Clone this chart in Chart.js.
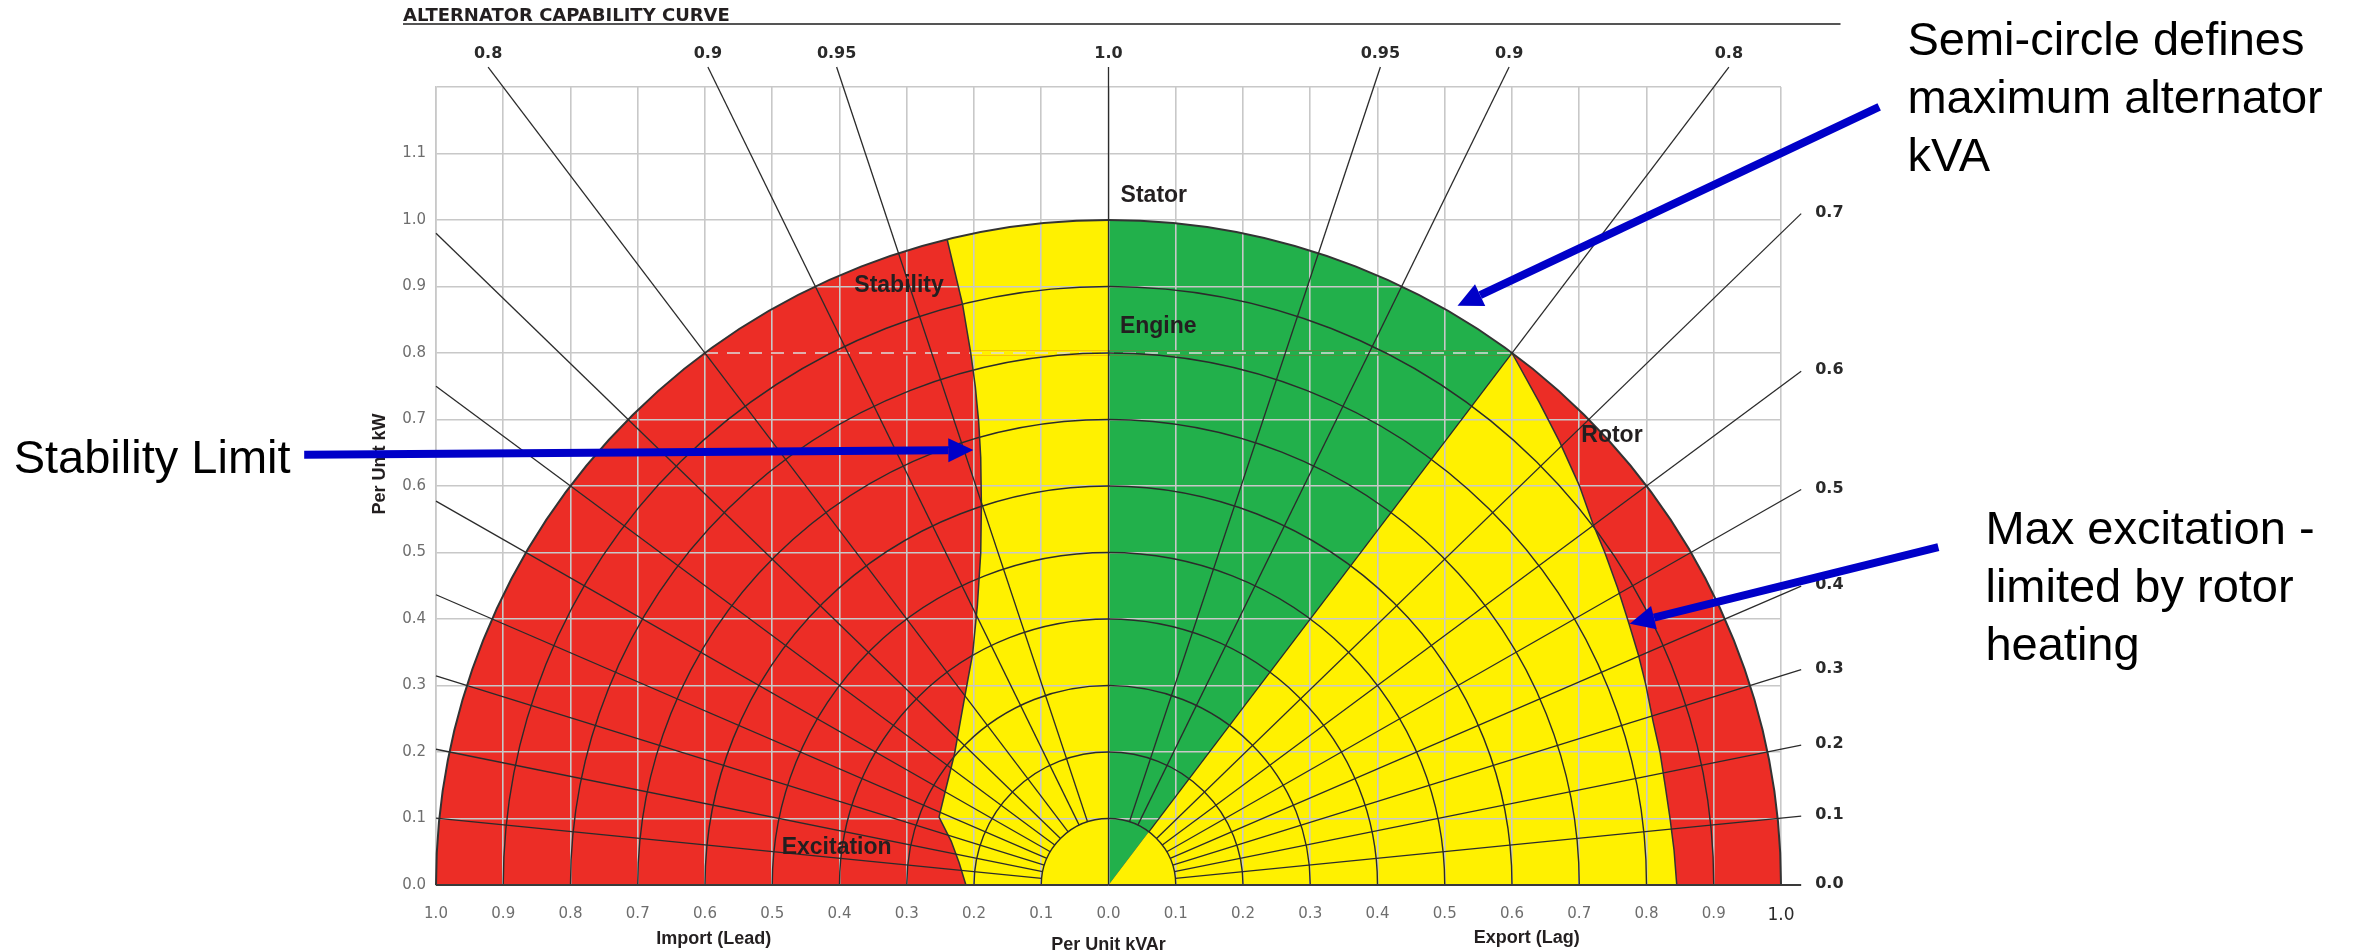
<!DOCTYPE html>
<html lang="en">
<head>
<meta charset="utf-8">
<title>Alternator Capability Curve</title>
<script src="https://cdn.jsdelivr.net/npm/chart.js@4.4.1/dist/chart.umd.min.js"></script>
<style>
  html, body { margin: 0; padding: 0; background: #ffffff; }
  #frame { position: relative; width: 2361px; height: 951px; }
  canvas { display: block; }
</style>
</head>
<body>
<div id="frame"><canvas id="capability" width="2361" height="951"></canvas></div>
<script>
// ---------------------------------------------------------------------------
// Axis ticks (per-unit kVAr: negative side = import / leading)
// ---------------------------------------------------------------------------
const kvarTicks = [-1.0, -0.9, -0.8, -0.7, -0.6, -0.5, -0.4, -0.3, -0.2, -0.1, 0.0,
                   0.1, 0.2, 0.3, 0.4, 0.5, 0.6, 0.7, 0.8, 0.9, 1.0];
const kvarTickLabels = ['1.0', '0.9', '0.8', '0.7', '0.6', '0.5', '0.4', '0.3', '0.2', '0.1', '0.0',
                        '0.1', '0.2', '0.3', '0.4', '0.5', '0.6', '0.7', '0.8', '0.9', '1.0'];
const kwTicks = [0.0, 0.1, 0.2, 0.3, 0.4, 0.5, 0.6, 0.7, 0.8, 0.9, 1.0, 1.1, 1.2];
const kwTickLabels = ['0.0', '0.1', '0.2', '0.3', '0.4', '0.5', '0.6', '0.7', '0.8', '0.9', '1.0', '1.1', ''];

// Power-factor rays and their labels
const powerFactors = [0.0, 0.1, 0.2, 0.3, 0.4, 0.5, 0.6, 0.7, 0.8, 0.9, 0.95, 1.0];
const powerFactorLabels = ['0.0', '0.1', '0.2', '0.3', '0.4', '0.5', '0.6', '0.7', '0.8', '0.9', '0.95', '1.0'];

// Constant-kVA arcs inside the stator circle
const kvaArcs = [0.1, 0.2, 0.3, 0.4, 0.5, 0.6, 0.7, 0.8, 0.9];
const statorKva = 1.0;

// Engine limit: rated power factor
const enginePf = 0.8;

// Stability (under-excitation) limit, from the x axis up to the stator circle
const stabilityKvar = [-0.212, -0.222, -0.234, -0.252, -0.242, -0.229, -0.215, -0.202, -0.195,
                       -0.190, -0.189, -0.190, -0.193, -0.198, -0.205, -0.217, -0.240];
const stabilityKw   = [0.000, 0.033, 0.066, 0.102, 0.144, 0.197, 0.276, 0.348, 0.420,
                       0.499, 0.571, 0.643, 0.696, 0.749, 0.801, 0.873, 0.971];

// Rotor heating (max excitation) limit, from the engine corner down to the x axis
const rotorKvar = [0.600, 0.641, 0.671, 0.700, 0.720, 0.738, 0.757, 0.774, 0.788,
                   0.799, 0.810, 0.820, 0.828, 0.835, 0.841, 0.845];
const rotorKw   = [0.800, 0.725, 0.666, 0.601, 0.544, 0.500, 0.447, 0.393, 0.346,
                   0.301, 0.245, 0.200, 0.148, 0.100, 0.052, 0.000];

// Region names, anchored by their left edge / vertical middle
const zoneNames = ['Stator', 'Engine', 'Stability', 'Rotor', 'Excitation'];
const zoneKvar  = [0.018, 0.017, -0.378, 0.703, -0.486];
const zoneKw    = [1.036, 0.839, 0.901, 0.675, 0.056];

// Call-out notes (left edge / first baseline) and their arrows
const noteLines = [
  ['Semi-circle defines', 'maximum alternator', 'kVA'],
  ['Stability Limit'],
  ['Max excitation -', 'limited by rotor', 'heating']
];
const noteKvar = [1.188, -1.628, 1.304];
const noteKw   = [1.248, 0.620, 0.513];
const arrowFromKvar = [1.146, -1.196, 1.234];
const arrowFromKw   = [1.170, 0.647, 0.508];
const arrowToKvar   = [0.519, -0.201, 0.775];
const arrowToKw     = [0.871, 0.654, 0.393];

// ---------------------------------------------------------------------------
// Styling
// ---------------------------------------------------------------------------
const RED = '#ec2d26';
const YELLOW = '#fff100';
const GREEN = '#22b04b';
const GRID = '#c8c8c8';
const INK = '#231f20';
const BLUE = '#0000c8';
const SANS = '"Liberation Sans", Arial, Helvetica, sans-serif';
const WIDE = '"DejaVu Sans", "Liberation Sans", Arial, sans-serif';

const rayTopKw = 1.23;     // rays running off the top end here
const rayLagKvar = 1.03;   // rays running off the export side end here
const rayLeadKvar = -1.0;  // rays running off the import side end here

// End point of a power-factor ray on one side (-1 lead, +1 lag)
function rayEnd(pf, side) {
  const s = Math.sqrt(Math.max(0, 1 - pf * pf));
  const c = pf;
  const tTop = c > 0 ? rayTopKw / c : Infinity;
  const edge = side < 0 ? Math.abs(rayLeadKvar) : rayLagKvar;
  const tSide = s > 0 ? edge / s : Infinity;
  const t = Math.min(tTop, tSide);
  return { x: side * s * t, y: c * t, hitsTop: tTop <= tSide };
}

// ---------------------------------------------------------------------------
// Datasets: power-factor rays and the two limit curves
// ---------------------------------------------------------------------------
const lineStyle = {
  showLine: true, pointRadius: 0, pointHoverRadius: 0, fill: false,
  tension: 0, borderColor: '#2b2b2b', borderWidth: 1.3, clip: false
};

const datasets = [];
powerFactors.forEach((pf, i) => {
  const sides = pf === 1 ? [1] : [-1, 1];
  sides.forEach(side => {
    const s = Math.sqrt(Math.max(0, 1 - pf * pf));
    const r0 = (pf === 0 || pf === 1) ? 0 : kvaArcs[0];
    const end = rayEnd(pf, side);
    datasets.push(Object.assign({}, lineStyle, {
      label: 'pf ' + powerFactorLabels[i] + (side < 0 ? ' lead' : ' lag'),
      data: [{ x: side * s * r0, y: pf * r0 }, { x: end.x, y: end.y }],
      borderColor: pf === 0 ? '#3a3a3a' : '#2b2b2b',
      borderWidth: pf === 0 ? 2 : 1.3
    }));
  });
});

datasets.push(Object.assign({}, lineStyle, {
  label: 'Stability limit',
  data: stabilityKvar.map((x, i) => ({ x: x, y: stabilityKw[i] })),
  borderColor: '#333333', borderWidth: 1.5
}));
datasets.push(Object.assign({}, lineStyle, {
  label: 'Rotor limit',
  data: rotorKvar.map((x, i) => ({ x: x, y: rotorKw[i] })),
  borderColor: '#333333', borderWidth: 1.5
}));

// ---------------------------------------------------------------------------
// Region fills, arcs, labels and call-outs
// ---------------------------------------------------------------------------
function geometry(chart) {
  const xs = chart.scales.x, ys = chart.scales.y;
  const px = v => xs.getPixelForValue(v);
  const py = v => ys.getPixelForValue(v);
  const cx = px(0), cy = py(0);
  return { px, py, cx, cy, rx: px(1) - cx, ry: cy - py(1) };
}

function paintZones(ctx, g) {
  const R = statorKva;
  // whole stator circle: outside every other limit
  ctx.fillStyle = RED;
  ctx.beginPath();
  ctx.moveTo(g.cx - g.rx * R, g.cy);
  ctx.ellipse(g.cx, g.cy, g.rx * R, g.ry * R, 0, Math.PI, 2 * Math.PI);
  ctx.closePath();
  ctx.fill();

  // leading side inside the stability limit
  ctx.fillStyle = YELLOW;
  ctx.beginPath();
  ctx.moveTo(g.px(stabilityKvar[0]), g.py(stabilityKw[0]));
  for (let i = 1; i < stabilityKvar.length; i++) ctx.lineTo(g.px(stabilityKvar[i]), g.py(stabilityKw[i]));
  const last = stabilityKvar.length - 1;
  const a0 = Math.atan2(-stabilityKw[last], stabilityKvar[last]);
  ctx.ellipse(g.cx, g.cy, g.rx * R, g.ry * R, 0, a0, -Math.PI / 2);
  ctx.lineTo(g.cx, g.cy);
  ctx.closePath();
  ctx.fill();

  // lagging side between the engine ray and the rotor limit
  ctx.beginPath();
  ctx.moveTo(g.cx, g.cy);
  for (let i = 0; i < rotorKvar.length; i++) ctx.lineTo(g.px(rotorKvar[i]), g.py(rotorKw[i]));
  ctx.closePath();
  ctx.fill();

  // engine wedge: unity pf to rated pf, inside the stator circle
  const s = Math.sqrt(1 - enginePf * enginePf);
  ctx.fillStyle = GREEN;
  ctx.beginPath();
  ctx.moveTo(g.cx, g.cy);
  ctx.lineTo(g.cx, g.cy - g.ry * R);
  ctx.ellipse(g.cx, g.cy, g.rx * R, g.ry * R, 0, -Math.PI / 2, Math.atan2(-enginePf, s));
  ctx.closePath();
  ctx.fill();
}

function drawArrow(ctx, x0, y0, x1, y1) {
  const ang = Math.atan2(y1 - y0, x1 - x0);
  const head = 25, half = 12;
  const bx = x1 - head * Math.cos(ang), by = y1 - head * Math.sin(ang);
  ctx.strokeStyle = BLUE;
  ctx.fillStyle = BLUE;
  ctx.lineWidth = 8;
  ctx.lineCap = 'butt';
  ctx.beginPath();
  ctx.moveTo(x0, y0);
  ctx.lineTo(bx, by);
  ctx.stroke();
  ctx.beginPath();
  ctx.moveTo(x1, y1);
  ctx.lineTo(bx + half * Math.sin(ang), by - half * Math.cos(ang));
  ctx.lineTo(bx - half * Math.sin(ang), by + half * Math.cos(ang));
  ctx.closePath();
  ctx.fill();
}

const capabilityPlugin = {
  id: 'capability',
  beforeDraw(chart) {
    const ctx = chart.ctx;
    ctx.save();
    ctx.fillStyle = '#ffffff';
    ctx.fillRect(0, 0, chart.width, chart.height);
    paintZones(ctx, geometry(chart));
    ctx.restore();
  },
  beforeDatasetsDraw(chart) {
    const ctx = chart.ctx, g = geometry(chart);
    const engineKw = enginePf * statorKva;
    const half = Math.sqrt(statorKva * statorKva - engineKw * engineKw);

    // engine kW rating: dashed across the circle instead of the solid grid line
    ctx.save();
    ctx.beginPath();
    ctx.rect(g.px(-half) - 2, g.py(engineKw) - 2.5, g.px(half) - g.px(-half) + 4, 5);
    ctx.clip();
    paintZones(ctx, g);
    ctx.restore();
    ctx.save();
    ctx.setLineDash([13, 9]);
    ctx.strokeStyle = '#dcdcdc';
    ctx.lineWidth = 1.5;
    ctx.beginPath();
    ctx.moveTo(g.px(-half), g.py(engineKw));
    ctx.lineTo(g.px(half), g.py(engineKw));
    ctx.stroke();
    ctx.restore();

    // constant kVA arcs and the stator circle
    ctx.save();
    ctx.strokeStyle = '#2b2b2b';
    ctx.lineWidth = 1.4;
    kvaArcs.forEach(r => {
      ctx.beginPath();
      ctx.ellipse(g.cx, g.cy, g.rx * r, g.ry * r, 0, Math.PI, 2 * Math.PI);
      ctx.stroke();
    });
    ctx.strokeStyle = '#333333';
    ctx.lineWidth = 2;
    ctx.beginPath();
    ctx.ellipse(g.cx, g.cy, g.rx * statorKva, g.ry * statorKva, 0, Math.PI, 2 * Math.PI);
    ctx.stroke();
    ctx.restore();
  },
  afterDatasetsDraw(chart) {
    const ctx = chart.ctx, g = geometry(chart), area = chart.chartArea;
    ctx.save();

    // heading with rule
    ctx.fillStyle = INK;
    ctx.font = 'bold 18px ' + WIDE;
    ctx.textAlign = 'left';
    ctx.textBaseline = 'alphabetic';
    ctx.fillText('ALTERNATOR CAPABILITY CURVE', area.left - 33, 21);
    ctx.strokeStyle = '#555555';
    ctx.lineWidth = 2;
    ctx.beginPath();
    ctx.moveTo(area.left - 33, 24);
    ctx.lineTo(g.px(1.0885), 24);
    ctx.stroke();

    // power-factor labels at the ray ends
    ctx.font = 'bold 16px ' + WIDE;
    ctx.fillStyle = '#2a2a2a';
    powerFactors.forEach((pf, i) => {
      const sides = pf === 1 ? [1] : [-1, 1];
      sides.forEach(side => {
        const end = rayEnd(pf, side);
        const x = g.px(end.x), y = g.py(end.y);
        if (end.hitsTop) {
          ctx.textAlign = 'center';
          ctx.textBaseline = 'middle';
          ctx.fillText(powerFactorLabels[i], x, y - 13);
        } else if (side > 0) {
          ctx.textAlign = 'left';
          ctx.textBaseline = 'middle';
          ctx.fillText(powerFactorLabels[i], x + 14, y - 1);
        }
      });
    });

    // region names
    ctx.font = 'bold 23px ' + SANS;
    ctx.fillStyle = INK;
    ctx.textAlign = 'left';
    ctx.textBaseline = 'middle';
    zoneNames.forEach((name, i) => ctx.fillText(name, g.px(zoneKvar[i]), g.py(zoneKw[i])));

    // axis titles
    ctx.font = 'bold 18px ' + SANS;
    ctx.textAlign = 'center';
    ctx.textBaseline = 'middle';
    ctx.fillText('Import (Lead)', g.px(-0.587), area.bottom + 54);
    ctx.fillText('Per Unit kVAr', g.px(0.0), area.bottom + 60);
    ctx.fillText('Export (Lag)', g.px(0.622), area.bottom + 53);
    ctx.save();
    ctx.translate(area.left - 56, g.py(0.633));
    ctx.rotate(-Math.PI / 2);
    ctx.fillText('Per Unit kW', 0, 0);
    ctx.restore();

    // call-outs
    ctx.font = '47px ' + SANS;
    ctx.fillStyle = '#000000';
    ctx.textAlign = 'left';
    ctx.textBaseline = 'alphabetic';
    noteLines.forEach((lines, i) => {
      lines.forEach((line, j) => ctx.fillText(line, g.px(noteKvar[i]), g.py(noteKw[i]) + j * 58));
    });
    arrowFromKvar.forEach((x, i) => {
      drawArrow(ctx, g.px(x), g.py(arrowFromKw[i]), g.px(arrowToKvar[i]), g.py(arrowToKw[i]));
    });

    ctx.restore();
  }
};

// ---------------------------------------------------------------------------
// Chart
// ---------------------------------------------------------------------------
const tickFont = { family: WIDE, size: 15 };

new Chart(document.getElementById('capability'), {
  type: 'scatter',
  data: { datasets: datasets },
  options: {
    responsive: false,
    animation: false,
    devicePixelRatio: 1,
    events: [],
    layout: { padding: { left: 376, right: 580, top: 87, bottom: 0 } },
    plugins: {
      legend: { display: false },
      tooltip: { enabled: false },
      title: { display: false }
    },
    scales: {
      x: {
        type: 'linear',
        min: kvarTicks[0],
        max: kvarTicks[kvarTicks.length - 1],
        afterBuildTicks: axis => { axis.ticks = kvarTicks.map(v => ({ value: v })); },
        afterFit: axis => { axis.height = 66; },
        grid: { color: GRID, lineWidth: 1.6, drawTicks: false },
        border: { display: true, color: GRID, width: 1.6 },
        ticks: {
          padding: 20,
          font: ctx => ctx.index === kvarTicks.length - 1 ? { family: WIDE, size: 17 } : tickFont,
          color: ctx => ctx.index === kvarTicks.length - 1 ? '#2a2a2a' : '#6e6e6e',
          maxRotation: 0,
          autoSkip: false,
          callback: (value, index) => kvarTickLabels[index]
        }
      },
      y: {
        type: 'linear',
        min: kwTicks[0],
        max: kwTicks[kwTicks.length - 1],
        afterBuildTicks: axis => { axis.ticks = kwTicks.map(v => ({ value: v })); },
        afterFit: axis => { axis.width = 60; },
        grid: { color: GRID, lineWidth: 1.6, drawTicks: false },
        border: { display: true, color: GRID, width: 1.6 },
        ticks: {
          padding: 10,
          font: tickFont,
          color: '#6e6e6e',
          autoSkip: false,
          callback: (value, index) => kwTickLabels[index]
        }
      }
    }
  },
  plugins: [capabilityPlugin]
});
</script>
</body>
</html>
